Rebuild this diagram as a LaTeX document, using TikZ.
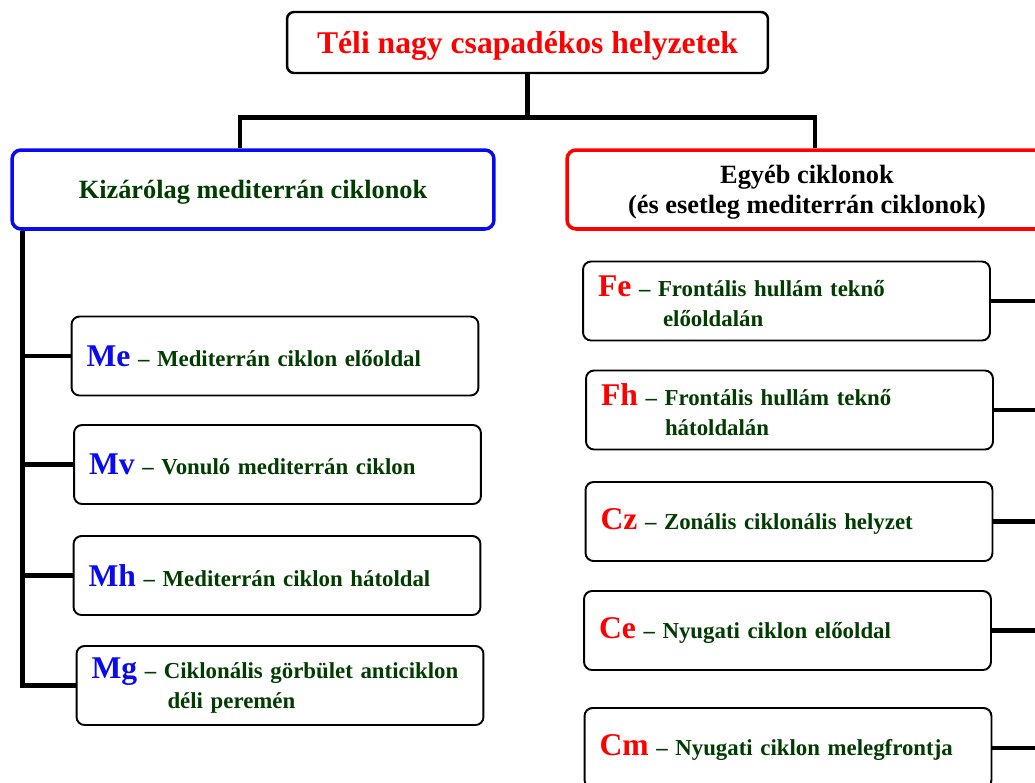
\documentclass[tikz,border=0pt]{standalone}
\usepackage{fontspec}
\setmainfont{Liberation Serif}
\usepackage{tikz}
\usetikzlibrary{positioning}

\definecolor{mblue}{RGB}{10,10,240}
\definecolor{cred}{RGB}{255,0,0}
\definecolor{dgreen}{RGB}{0,60,0}

\newcommand{\mcode}[1]{{\fontsize{18}{18}\selectfont\color{mblue}#1}}
\newcommand{\ccode}[1]{{\fontsize{18}{18}\selectfont\color{cred}#1}}

\begin{document}
\begin{tikzpicture}[
    x=0.02cm, y=-0.02cm,
    title/.style={draw, line width=1.4pt, rounded corners=0.14cm, minimum width=9.62cm, minimum height=1.22cm, text depth=0pt, font=\fontsize{18}{20}\selectfont\bfseries, text=cred},
    head/.style={draw, line width=2pt, rounded corners=0.18cm, minimum width=9.64cm, minimum height=1.58cm, text depth=0pt, align=center, font=\fontsize{15}{17}\selectfont\bfseries},
    item/.style={draw, line width=1.1pt, rounded corners=0.16cm, minimum width=8.14cm, minimum height=1.58cm, text width=7.54cm, inner xsep=0.3cm, align=left, font=\fontsize{13}{17}\selectfont\bfseries, text=dgreen},
    conn/.style={line width=2.8pt}
]
    \clip (0,0) rectangle (1035,782);

    % Title
    \node[title] (title) at (527.5,42.5) {Téli nagy csapadékos helyzetek};

    % Group headers
    \node[head, draw=mblue, text=dgreen] (mhead) at (253,189.5) {Kizárólag mediterrán ciklonok};
    \node[head, draw=cred, minimum width=9.6cm] (chead) at (807,189.5) {Egyéb ciklonok\\(és esetleg mediterrán ciklonok)};

    % Mediterranean types
    \node[item] (me) at (275,356)   {\mcode{Me} -- Mediterrán ciklon előoldal};
    \node[item] (mv) at (277.5,464.5) {\mcode{Mv} -- Vonuló mediterrán ciklon};
    \node[item] (mh) at (277,575.5) {\mcode{Mh} -- Mediterrán ciklon hátoldal};
    \node[item] (mg) at (280,685.5) {\mcode{Mg} -- Ciklonális görbület anticiklon\\\hspace*{1.52cm}déli peremén};

    % Other cyclones
    \node[item] (fe) at (786.5,301) {\ccode{Fe} -- Frontális hullám teknő\\\hspace*{1.3cm}előoldalán};
    \node[item] (fh) at (789.5,410) {\ccode{Fh} -- Frontális hullám teknő\\\hspace*{1.28cm}hátoldalán};
    \node[item] (cz) at (789,521.5) {\ccode{Cz} -- Zonális ciklonális helyzet};
    \node[item] (ce) at (787.5,630.5) {\ccode{Ce} -- Nyugati ciklon előoldal};
    \node[item, minimum height=1.6cm] (cm) at (788,748) {\ccode{Cm} -- Nyugati ciklon melegfrontja};

    % Tree lines
    \draw[conn] (title.south) -- ++(0,-0.86cm) coordinate (split);
    \draw[conn] (split) -| ([xshift=-0.26cm]mhead.north);
    \draw[conn] (split) -| ([xshift=0.16cm]chead.north);

    \coordinate (lspine) at ([xshift=0.24cm]mhead.south west);
    \draw[conn] (lspine) |- (mg.west);
    \foreach \n in {me,mv,mh}
        \draw[conn] (lspine |- \n.west) -- (\n.west);

    \coordinate (rspine) at ([xshift=-0.04cm]chead.south east);
    \draw[conn] (rspine) |- (cm.east);
    \foreach \n in {fe,fh,cz,ce}
        \draw[conn] (rspine |- \n.east) -- (\n.east);
\end{tikzpicture}
\end{document}
